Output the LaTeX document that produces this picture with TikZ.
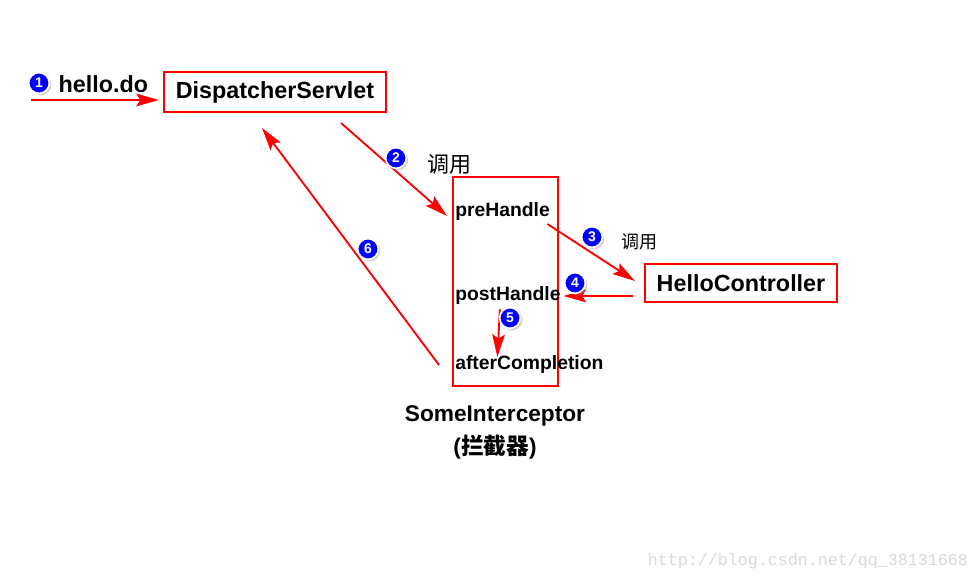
\documentclass[tikz,border=0pt]{standalone}
\usepackage{fontspec}
\setmainfont{Liberation Sans}
\setmonofont{Liberation Mono}
\newfontfamily\cjk{Noto Sans CJK SC}
\usepackage{tikz}
\usetikzlibrary{positioning, arrows.meta, calc, shadows}

\begin{document}
\begin{tikzpicture}[
    x=0.75pt, y=-0.75pt,
    box/.style={
        rectangle, draw=red, line width=1.5pt, fill=white,
        inner sep=0pt, font=\fontsize{17.5}{20}\selectfont\bfseries
    },
    stage/.style={
        inner sep=0pt, anchor=west,
        font=\fontsize{14.5}{17}\selectfont\bfseries
    },
    ball/.style={
        circle, fill=blue, draw=white, line width=1.2pt, inner sep=0pt,
        minimum size=15.5pt, text=white,
        font=\fontsize{10.5}{11}\selectfont\bfseries,
        drop shadow={shadow xshift=1.5pt, shadow yshift=-1.5pt, opacity=0.35}
    },
    call/.style={font=\cjk},
    flow/.style={-{Stealth[length=17pt, width=9.5pt, inset=3pt]}, red, line width=1.4pt},
    title/.style={font=\fontsize{17}{20}\selectfont\bfseries}
]
\useasboundingbox (0,0) rectangle (979,581);

% === Main boxes ===
\node[box, minimum width=166.5pt, minimum height=30pt] (servlet) at (275,92)
    {DispatcherServlet};
\node[box, minimum width=78.75pt, minimum height=156.75pt] (inter) at (505.5,281.5) {};
\node[box, minimum width=144pt, minimum height=28.5pt] (hello) at (741,283)
    {HelloController};

% Interceptor methods
\node[stage] (pre) at (455,212) {preHandle};
\node[stage] (post) at (455,296) {postHandle};
\node[stage] (after) at (455,365) {afterCompletion};

\node[title] (name) at (495,416) {SomeInterceptor};
\node[title] (cname) at (495,447) {({\cjk\bfseries 拦截器})};

% === Request ===
\coordinate (start) at (31,100);
\node[font=\fontsize{17.5}{20}\selectfont\bfseries, anchor=west] (req) at (54,84) {hello.do};
\node[ball] (n1) at (39,83) {1};
\draw[flow] (start) -- ([xshift=-3pt, yshift=-6pt]servlet.west);

% === Calls ===
\draw[flow] ([xshift=-34.5pt, yshift=-7.5pt]servlet.south east) -- ([xshift=-6pt, yshift=-3pt]pre.west);
\node[ball] (n2) at (396,158) {2};
\node[call, font=\cjk\fontsize{16.5}{18}\selectfont] (call1) at (449,164) {调用};

\draw[flow] ([xshift=-2pt, yshift=-9pt]pre.east) -- ([xshift=-6.75pt, yshift=1.5pt]hello.west);
\node[ball] (n3) at (592,237) {3};
\node[call, font=\cjk\fontsize{13.5}{15}\selectfont] (call2) at (639,242) {调用};

\draw[flow] ([xshift=-8pt, yshift=-9.75pt]hello.west) -- ([xshift=2pt]post.east);
\node[ball] (n4) at (575,283) {4};

\draw[flow] ([xshift=-6pt, yshift=-3pt]post.south) -- ([xshift=-24pt, yshift=-1pt]after.north);
\node[ball] (n5) at (510,318) {5};

% === Return ===
\draw[flow] ([xshift=-9.75pt, yshift=-62.6pt]inter.west) -- ([xshift=-9.75pt, yshift=-11.25pt]servlet.south);
\node[ball] (n6) at (368,249) {6};

% watermark
\node[font=\ttfamily\fontsize{12.5}{14}\selectfont, text=gray!30] (mark) at (808,561)
    {http://blog.csdn.net/qq\_38131668};

\end{tikzpicture}
\end{document}
